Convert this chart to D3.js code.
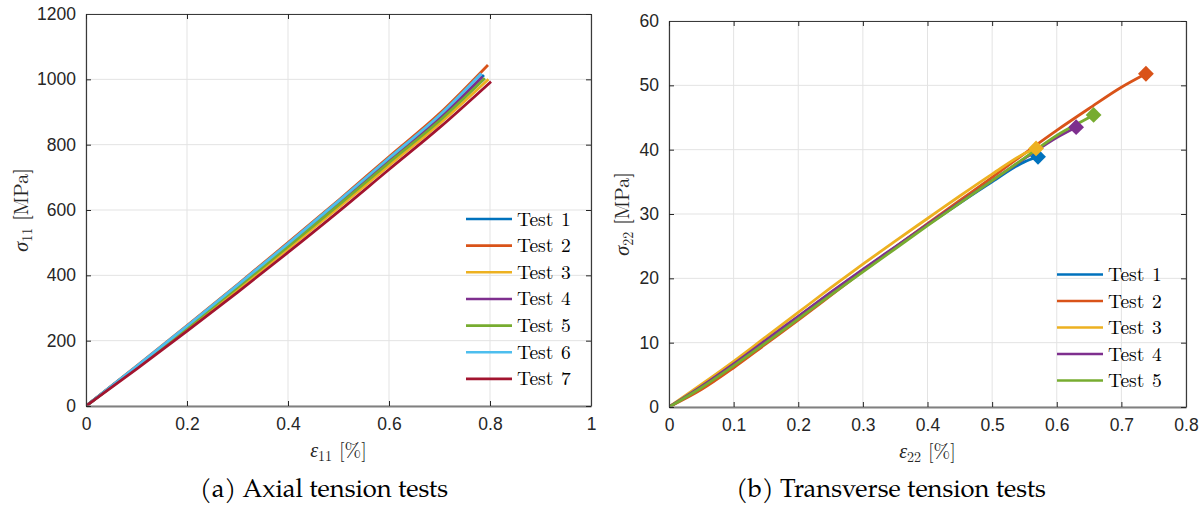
<!DOCTYPE html>
<html><head><meta charset="utf-8">
<script src="https://cdn.jsdelivr.net/npm/d3@7"></script>
<style>body{margin:0;background:#fff}svg{display:block}</style>
</head><body>
<svg id="c" width="1203" height="506"></svg>
<script>
// ---------- DATA ----------
const colors = ["#0072BD","#D95319","#EDB120","#7E2F8E","#77AC30","#4DBEEE","#A2142F"];
const axialNames = ["Test 1","Test 2","Test 3","Test 4","Test 5","Test 6","Test 7"];
const axialStrain = [
  [0,0.1,0.2,0.3,0.4,0.5,0.6,0.7,0.788],
  [0,0.1,0.2,0.3,0.4,0.5,0.6,0.7,0.796],
  [0,0.1,0.2,0.3,0.4,0.5,0.6,0.7,0.797],
  [0,0.1,0.2,0.3,0.4,0.5,0.6,0.7,0.785],
  [0,0.1,0.2,0.3,0.4,0.5,0.6,0.7,0.790],
  [0,0.1,0.2,0.3,0.4,0.5,0.6,0.7,0.783],
  [0,0.1,0.2,0.3,0.4,0.5,0.6,0.7,0.802]
];
const axialStress = [
  [0,120,242,366,492,620,750,878,1013],
  [0,122,246,372,500,630,763,895,1044],
  [0,117,236,357,481,607,736,864,1000],
  [0,120,242,367,494,623,754,882,1008],
  [0,119,240,363,488,615,745,873,1003],
  [0,121,245,370,497,627,759,890,1018],
  [0,113,229,348,470,595,724,852,993]
];
const transNames = ["Test 1","Test 2","Test 3","Test 4","Test 5"];
const transStrain = [
  [0,0.05,0.1,0.15,0.2,0.25,0.3,0.35,0.4,0.45,0.5,0.55,0.571],
  [0,0.05,0.1,0.15,0.2,0.25,0.3,0.35,0.4,0.45,0.5,0.55,0.6,0.65,0.7,0.738],
  [0,0.05,0.1,0.15,0.2,0.25,0.3,0.35,0.4,0.45,0.5,0.55,0.568],
  [0,0.05,0.1,0.15,0.2,0.25,0.3,0.35,0.4,0.45,0.5,0.55,0.6,0.63],
  [0,0.05,0.1,0.15,0.2,0.25,0.3,0.35,0.4,0.45,0.5,0.55,0.6,0.65,0.657]
];
const transStress = [
  [0,3.1,6.6,10.3,14.0,17.7,21.3,24.8,28.3,31.7,35.0,38.1,38.9],
  [0,2.7,6.1,9.8,13.5,17.3,21.1,24.8,28.5,32.1,35.7,39.4,43.0,46.4,49.7,51.8],
  [0,3.5,7.1,10.9,14.7,18.5,22.2,25.8,29.3,32.8,36.2,39.4,40.2],
  [0,3.2,6.7,10.4,14.1,17.8,21.4,24.9,28.4,31.8,35.2,38.6,41.9,43.5],
  [0,3.0,6.4,10.0,13.7,17.4,21.0,24.6,28.2,31.7,35.2,38.7,42.2,45.0,45.4]
];
const axialXTicks = [0,0.2,0.4,0.6,0.8,1];
const axialYTicks = [0,200,400,600,800,1000,1200];
const transXTicks = [0,0.1,0.2,0.3,0.4,0.5,0.6,0.7,0.8];
const transYTicks = [0,10,20,30,40,50,60];

// ---------- DRAW ----------
const svg = d3.select("#c");
const tickFont = "'Liberation Sans', Arial, Helvetica, sans-serif";
const serif = "'Latin Modern Roman','CMU Serif','Liberation Serif','Times New Roman',serif";
const pal = "'TeX Gyre Pagella','Palatino Linotype','Palatino','DejaVu Serif','Liberation Serif',serif";

function panel(o){
  const x = d3.scaleLinear().domain(o.xd).range(o.xr);
  const y = d3.scaleLinear().domain(o.yd).range(o.yr);
  const g = svg.append("g");
  const id = "clip"+o.key;
  svg.append("clipPath").attr("id",id).append("rect")
    .attr("x",o.xr[0]).attr("y",o.yr[1]).attr("width",o.xr[1]-o.xr[0]).attr("height",o.yr[0]-o.yr[1]);
  // grid
  g.append("g").selectAll("line").data(o.xt).join("line")
    .attr("x1",d=>x(d)).attr("x2",d=>x(d)).attr("y1",o.yr[0]).attr("y2",o.yr[1])
    .attr("stroke","#e3e3e3").attr("stroke-width",1);
  g.append("g").selectAll("line").data(o.yt).join("line")
    .attr("y1",d=>y(d)).attr("y2",d=>y(d)).attr("x1",o.xr[0]).attr("x2",o.xr[1])
    .attr("stroke","#e3e3e3").attr("stroke-width",1);
  // data
  const line = d3.line().x(d=>x(d[0])).y(d=>y(d[1])).curve(d3.curveMonotoneX);
  const dg = g.append("g").attr("clip-path","url(#"+id+")");
  o.strain.forEach((s,i)=>{
    const pts = s.map((v,j)=>[v,o.stress[i][j]]);
    dg.append("path").attr("d",line(pts)).attr("fill","none")
      .attr("stroke",colors[i]).attr("stroke-width",2.8).attr("stroke-linejoin","round");
  });
  if(o.markers){
    o.strain.forEach((s,i)=>{
      const last = s.length-1;
      g.append("path").attr("d",d3.symbol(d3.symbolSquare,125)())
        .attr("transform",`translate(${x(s[last])},${y(o.stress[i][last])}) rotate(45)`)
        .attr("fill",colors[i]);
    });
  }
  // axes (MATLAB box with inward ticks)
  const ax = g.append("g");
  const bottom = d3.axisBottom(x).tickValues(o.xt).tickSizeInner(-5).tickSizeOuter(0).tickPadding(12).tickFormat(d3.format("~g"));
  const left = d3.axisLeft(y).tickValues(o.yt).tickSizeInner(-5).tickSizeOuter(0).tickPadding(10).tickFormat(d3.format("~g"));
  const top = d3.axisTop(x).tickValues(o.xt).tickSizeInner(-5).tickSizeOuter(0).tickFormat("");
  const right = d3.axisRight(y).tickValues(o.yt).tickSizeInner(-5).tickSizeOuter(0).tickFormat("");
  const gb = ax.append("g").attr("transform",`translate(0,${o.yr[0]})`).call(bottom);
  const gl = ax.append("g").attr("transform",`translate(${o.xr[0]},0)`).call(left);
  const gt = ax.append("g").attr("transform",`translate(0,${o.yr[1]})`).call(top);
  const gr = ax.append("g").attr("transform",`translate(${o.xr[1]},0)`).call(right);
  [gb,gl,gt,gr].forEach(a=>{
    a.select(".domain").attr("stroke","#3a3a3a").attr("stroke-width",1.2);
    a.selectAll(".tick line").attr("stroke","#262626").attr("stroke-width",1);
    a.selectAll("text").attr("font-family",tickFont).attr("font-size",17.5).attr("fill","#262626");
  });
  gb.select(".domain").attr("stroke","#808080").attr("stroke-width",2);
  // legend
  const lg = g.append("g");
  o.names.forEach((n,i)=>{
    const yy = o.leg.y + i*o.leg.dy;
    lg.append("line").attr("x1",o.leg.x).attr("x2",o.leg.x+46).attr("y1",yy).attr("y2",yy)
      .attr("stroke",colors[i]).attr("stroke-width",2.6);
    lg.append("text").attr("x",o.leg.x+51).attr("y",yy+6.5).text(n)
      .attr("font-family",serif).attr("font-size",19.5).attr("fill","#000")
      .attr("xml:space","preserve").style("word-spacing","1px");
  });
  // axis labels
  const xl = g.append("text").attr("x",(o.xr[0]+o.xr[1])/2).attr("y",o.yr[0]+51)
    .attr("text-anchor","middle").attr("font-family",serif).attr("font-size",20).attr("fill","#262626");
  xl.append("tspan").attr("font-style","italic").text("ε");
  xl.append("tspan").attr("font-size",14).attr("dy",4).text(o.sub);
  xl.append("tspan").attr("dy",-4).attr("dx",7).text("[%]");
  const cy = (o.yr[0]+o.yr[1])/2;
  const yl = g.append("text").attr("transform",`translate(${o.ylx},${cy}) rotate(-90)`)
    .attr("text-anchor","middle").attr("font-family",serif).attr("font-size",20).attr("fill","#262626");
  yl.append("tspan").attr("font-style","italic").text("σ");
  yl.append("tspan").attr("font-size",14).attr("dy",4).text(o.sub);
  yl.append("tspan").attr("dy",-4).attr("dx",7).text("[MPa]");
  // caption
  svg.append("text").attr("x",o.capx).attr("y",497).attr("text-anchor","middle")
    .attr("font-family",pal).attr("font-size",25.5).attr("fill","#000").text(o.caption);
}

panel({key:"a", xd:[0,1], yd:[0,1200], xr:[86,591], yr:[406,14], xt:axialXTicks, yt:axialYTicks,
  strain:axialStrain, stress:axialStress, names:axialNames, markers:false,
  leg:{x:466,y:219,dy:26.65}, sub:"11", ylx:28, capx:324, caption:"(a) Axial tension tests"});
panel({key:"b", xd:[0,0.8], yd:[0,60], xr:[669,1186], yr:[407,21], xt:transXTicks, yt:transYTicks,
  strain:transStrain, stress:transStress, names:transNames, markers:true,
  leg:{x:1057,y:274.5,dy:26.5}, sub:"22", ylx:629, capx:891, caption:"(b) Transverse tension tests"});
</script>
</body></html>
